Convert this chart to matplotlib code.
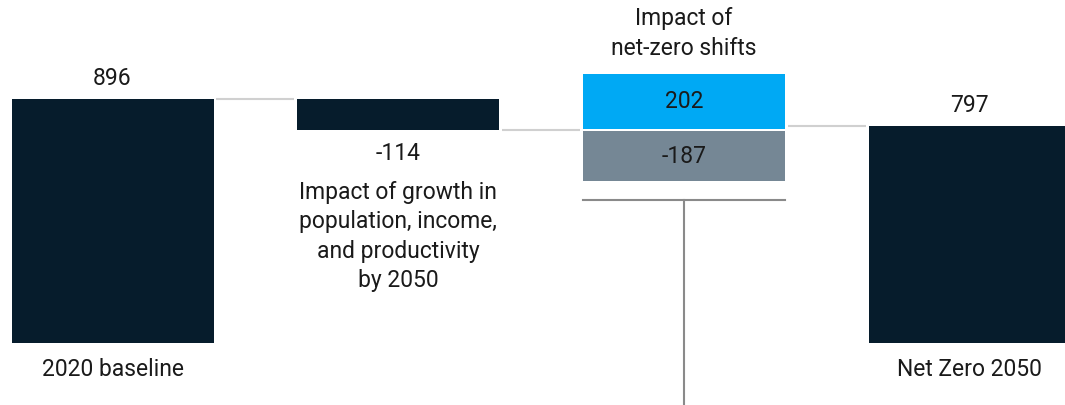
import matplotlib.pyplot as plt

plt.rcParams["font.family"] = ["Roboto", "DejaVu Sans"]

# data
baseline = 896
growth = -114
shift_up = 202
shift_down = -187
net_zero = 797

labels = ["2020 baseline", "Impact of growth in\npopulation, income,\nand productivity\nby 2050",
          "Impact of\nnet-zero shifts", "Net Zero 2050"]

DARK = "#061c2c"
BLUE = "#00a9f4"
GREY = "#758795"
LINE = "#d0d0d0"
TXT = "#1a1a1a"

fig = plt.figure(figsize=(10.65, 4.05), dpi=100)
ax = fig.add_axes([0, 0, 1, 1])
ax.set_xlim(-0.394, 3.334)
ax.set_ylim(-228, 1260)
ax.set_axis_off()

w = 0.707
fs = 16.5

# bars
after_growth = baseline + growth
ax.bar(0, baseline, width=w, color=DARK)
ax.bar(1, -growth, bottom=after_growth, width=w, color=DARK)
ax.bar(2, shift_up, bottom=after_growth + 4, width=w, color=BLUE)
ax.bar(2, shift_down + 4, bottom=after_growth - 4, width=w, color=GREY)
ax.bar(3, net_zero, width=w, color=DARK)

# connectors
def conn(x0, x1, y):
    ax.plot([x0 + w / 2 + 0.01, x1 - w / 2 - 0.01], [y, y], color=LINE, lw=1.5, solid_capstyle="butt")

conn(0, 1, baseline)
conn(1, 2, after_growth)
conn(2, 3, net_zero)

# bracket under net-zero shifts
bracket_y = after_growth + shift_down - 70
ax.plot([2 - w / 2, 2 + w / 2], [bracket_y, bracket_y], color="#8a8a8a", lw=1.5)
ax.plot([2, 2], [bracket_y, -240], color="#8a8a8a", lw=1.5)

# value labels
ax.text(0, baseline + 77, f"{baseline}", ha="center", va="center", fontsize=fs, color=TXT)
ax.text(3, net_zero + 77, f"{net_zero}", ha="center", va="center", fontsize=fs, color=TXT)
ax.text(1, after_growth - 85, f"{growth}", ha="center", va="center", fontsize=fs, color=TXT)
ax.text(2, after_growth + 4 + shift_up / 2, f"{shift_up}", ha="center", va="center", fontsize=fs, color=TXT)
ax.text(2, after_growth - 4 + shift_down / 2, f"{shift_down}", ha="center", va="center", fontsize=fs, color=TXT)

# category labels
ax.text(0, -99, labels[0], ha="center", va="center", fontsize=fs, color=TXT)
ax.text(3, -99, labels[3], ha="center", va="center", fontsize=fs, color=TXT)
ax.text(1, after_growth - 391, labels[1], ha="center", va="center", fontsize=fs, color=TXT, linespacing=1.35)
ax.text(2, after_growth + 4 + shift_up + 149, labels[2], ha="center", va="center", fontsize=fs, color=TXT,
        linespacing=1.35)

fig.savefig("out.png", dpi=100)
